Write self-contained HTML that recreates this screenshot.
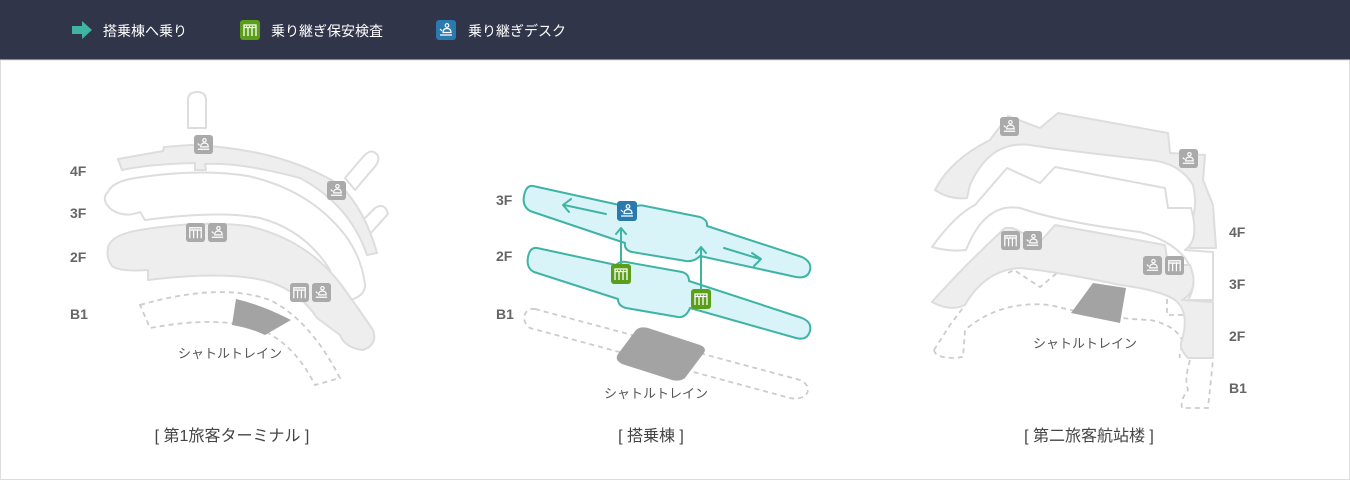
<!DOCTYPE html>
<html><head><meta charset="utf-8"><style>
html,body{margin:0;padding:0;width:1350px;height:480px;overflow:hidden;background:#fff}
svg{display:block}
text{font-family:"Liberation Sans","Noto Sans CJK JP",sans-serif}
</style></head><body>
<svg width="1350" height="480" viewBox="0 0 1350 480">
<defs>
<symbol id="gate" viewBox="0 0 20 20">
<rect x="0" y="0" width="20" height="20" rx="3"/>
<path d="M4 16V5H16V16M4 7.5H16M8 7.5V16M12 7.5V16" fill="none" stroke="#fff" stroke-width="1.3"/>
<path d="M6 6.3h1M9 6.3h1M12 6.3h1" stroke="#fff" stroke-width="0.8"/>
</symbol>
<symbol id="desk" viewBox="0 0 20 20">
<rect x="0" y="0" width="20" height="20" rx="3"/>
<circle cx="11" cy="5.5" r="1.8" fill="none" stroke="#fff" stroke-width="1.2"/>
<path d="M7 12.5Q7 8.5 11 8.5Q15 8.5 15 12.5ZM4 15H16M4 9l2 2" fill="none" stroke="#fff" stroke-width="1.2"/>
</symbol>
</defs>
<!-- header -->
<rect x="0" y="0" width="1350" height="60" fill="#31354a"/>
<path d="M72 26h10v-5l10 9-10 9v-5H72z" fill="#3fb4a5"/>
<text x="103" y="36" fill="#fff" font-size="14">搭乗棟へ乗り</text>
<use href="#gate" x="240" y="20" width="20" height="20" fill="#5a9e1a"/>
<text x="271" y="36" fill="#fff" font-size="14">乗り継ぎ保安検査</text>
<use href="#desk" x="436" y="20" width="20" height="20" fill="#2a7ab0"/>
<text x="468" y="36" fill="#fff" font-size="14">乗り継ぎデスク</text>
<rect x="0.5" y="60" width="1349" height="419.5" fill="#fff" stroke="#ddd"/>

<!-- LEFT -->
<g fill="#eee" stroke="#ddd" stroke-width="2" stroke-linejoin="round">
<path d="M188 128V100Q188 92 197 92Q206 92 206 100V128Z" fill="#fff"/>
<path d="M345 178L362 158Q372 146 378 156Q380 162 372 170L355 190Z" fill="#fff"/>
<path d="M358 225L375 208Q385 202 388 214L370 234Z" fill="#fff"/>
<path d="M118 159L163 151L164 147L190 145Q280 148 340 185Q365 210 377 253L367 255Q350 205 300 178Q240 162 205 164L206 170L195 170L195 163Q150 164 122 170Z"/>
<path d="M108 192Q112 182 135 178Q200 168 248 176Q310 190 345 235Q362 258 365 285Q365 296 350 300Q338 298 330 270Q305 230 260 218Q220 210 145 220L140 212Q125 218 112 210Q100 200 108 192Z" fill="#fff"/>
<path d="M108 248Q110 235 140 230Q200 220 248 226Q310 240 345 290Q365 318 373 330Q378 345 363 350Q345 348 340 335L317 318Q300 292 270 282Q230 270 148 280L148 270Q120 272 112 266Q106 258 108 248Z"/>
</g>
<g fill="none" stroke="#ccc" stroke-width="1.8" stroke-dasharray="5,4">
<path d="M140 305Q220 282 270 300Q310 320 340 378L315 385Q295 345 262 330Q220 315 150 328Z"/>
</g>
<path d="M236 299Q262 305 291 320L265 335Q250 328 232 325Z" fill="#a3a3a3"/>
<g fill="#aaa">
<use href="#desk" x="194" y="135" width="19" height="19"/>
<use href="#desk" x="327" y="181" width="19" height="19"/>
<use href="#gate" x="186" y="223" width="19" height="19"/>
<use href="#desk" x="208" y="223" width="19" height="19"/>
<use href="#gate" x="290" y="283" width="19" height="19"/>
<use href="#desk" x="312" y="283" width="19" height="19"/>
</g>
<g font-size="14" font-weight="bold" fill="#666">
<text x="70" y="176">4F</text><text x="70" y="218">3F</text><text x="70" y="262">2F</text><text x="70" y="319">B1</text>
<text x="496" y="205">3F</text><text x="496" y="261">2F</text><text x="496" y="319">B1</text>
<text x="1229" y="237">4F</text><text x="1229" y="289">3F</text><text x="1229" y="341">2F</text><text x="1229" y="393">B1</text>
</g>
<g font-size="13" fill="#555" text-anchor="middle">
<text x="230" y="358">シャトルトレイン</text>
<text x="656" y="398">シャトルトレイン</text>
<text x="1085" y="348">シャトルトレイン</text>
</g>
<g font-size="16" fill="#444" text-anchor="middle">
<text x="232" y="441">[ 第1旅客ターミナル ]</text>
<text x="651" y="441">[ 搭乗棟 ]</text>
<text x="1089" y="441">[ 第二旅客航站楼 ]</text>
</g>

<!-- MIDDLE -->
<g fill="none" stroke="#ccc" stroke-width="1.8" stroke-dasharray="5,4" stroke-linejoin="round">
<path d="M535 309L800 380Q812 386 806 395Q800 400 790 398L530 328Q522 322 525 314Q528 308 535 309Z"/>
</g>
<path d="M636 330Q640 326 648 328L700 345Q708 348 703 354L685 378Q680 382 672 380L622 364Q614 360 618 354Z" fill="#a3a3a3"/>
<g fill="#d9f4f8" stroke="#3fb4a5" stroke-width="2" stroke-linejoin="round">
<path d="M533 186L633 208Q638 204 645 206L700 217Q708 220 707 226L802 257Q812 262 810 270Q808 279 796 277L700 256Q694 262 686 261L632 252Q624 250 625 243L530 211Q522 206 524 196Q526 185 533 186Z"/>
<path d="M537 248L616 265Q620 261 626 262L682 272Q689 274 689 281L802 318Q812 322 810 331Q807 341 796 338L690 308Q686 318 678 317L626 308Q618 306 618 299L534 272Q526 268 528 257Q530 247 537 248Z"/>
</g>
<g fill="none" stroke="#3fb4a5" stroke-width="2" stroke-linecap="round" stroke-linejoin="round">
<path d="M606 214L564 205M571 199L563 205L569 212"/>
<path d="M724 248L760 259M752 253L761 259L754 266"/>
<path d="M621 266V228M616 234L621 228L626 234"/>
<path d="M701 290V247M696 253L701 247L706 253"/>
</g>
<use href="#desk" x="617" y="201" width="20" height="20" fill="#2a7ab0"/>
<use href="#gate" x="611" y="264" width="20" height="20" fill="#5a9e1a"/>
<use href="#gate" x="691" y="289" width="20" height="20" fill="#5a9e1a"/>

<!-- RIGHT -->
<g fill="none" stroke="#ccc" stroke-width="1.8" stroke-dasharray="5,4" stroke-linejoin="round">
<path d="M1008 273L1014 270L1040 287L1057 273L1167 290L1167 315L1188 315M1188 338Q1178 350 1180 358"/>
<path d="M934 350L950 325L965 305M934 350Q935 358 955 358L963 357L965 330Q1000 300 1050 305Q1100 318 1150 320Q1175 325 1182 340"/>
<path d="M1190 360Q1184 380 1188 390Q1180 400 1182 408L1208 408L1213 360"/>
</g>
<g fill="#eee" stroke="#ddd" stroke-width="2" stroke-linejoin="round">
<path d="M935 190Q950 160 990 140L1008 116L1040 128L1058 113L1168 133L1170 153L1205 155L1203 180L1213 205L1216 248L1190 248L1183 238Q1200 215 1193 185Q1180 163 1150 160Q1060 150 1030 145Q990 140 970 185L967 198Q950 200 935 190Z"/>
<path d="M932 247Q955 215 975 205L1007 168L1040 183L1055 167L1165 188L1168 208L1191 208Q1200 240 1185 250L1213 252L1213 300L1188 300Q1200 280 1185 258Q1170 240 1140 232Q1060 222 1020 208Q985 202 966 250Q950 252 932 247Z" fill="#fff"/>
<path d="M932 302Q960 270 1005 228L1013 228L1040 242L1055 225L1165 245L1168 265L1190 265Q1200 290 1182 300L1213 302L1213 358L1188 358Q1178 348 1182 340Q1190 312 1175 300Q1160 290 1120 285Q1060 272 1020 268Q985 270 965 305Q950 312 932 302Z"/>
</g>
<path d="M1093 283L1126 288L1120 323L1071 313Z" fill="#a3a3a3"/>
<g fill="#aaa">
<use href="#desk" x="1000" y="117" width="19" height="19"/>
<use href="#desk" x="1179" y="149" width="19" height="19"/>
<use href="#gate" x="1001" y="231" width="19" height="19"/>
<use href="#desk" x="1023" y="231" width="19" height="19"/>
<use href="#desk" x="1143" y="256" width="19" height="19"/>
<use href="#gate" x="1165" y="256" width="19" height="19"/>
</g>
</svg>
</body></html>
